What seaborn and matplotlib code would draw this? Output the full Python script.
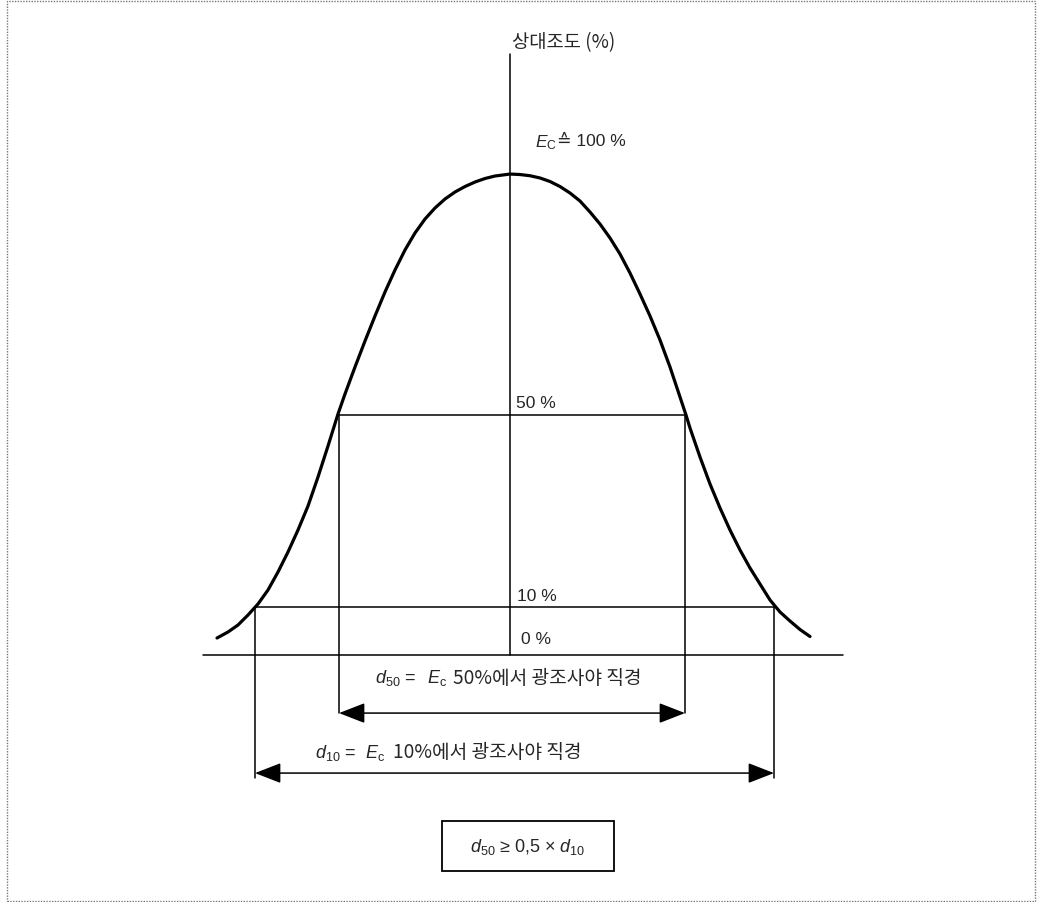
import matplotlib
matplotlib.use("Agg")
import matplotlib.pyplot as plt
import seaborn as sns
import numpy as np
import pandas as pd
from matplotlib.patches import Rectangle

# ---- data (x: offset from centre, y: relative illuminance %) ----
curve_x = [-293, -282, -272, -262, -252, -242, -232, -222, -212, -202, -192, -182, -172,
           -165, -155, -145, -135, -125, -115, -105, -95, -85, -75, -65, -55, -45, -35, -25, -15, 0,
           10, 20, 30, 40, 50, 60, 70, 80, 90, 100, 110, 120, 130, 140, 150, 160, 170, 176,
           180, 190, 200, 210, 220, 230, 240, 250, 260, 270, 280, 290, 300]
curve_y = [3.54, 4.79, 6.25, 8.33, 10.63, 13.54, 17.29, 21.46, 26.04, 31.04, 37.08, 43.54, 50.21,
           54.38, 60.0, 65.42, 70.63, 75.63, 80.21, 84.38, 87.92, 90.83, 93.13, 95.0, 96.46, 97.6, 98.54,
           99.27, 99.79, 100.2,
           100.1, 99.85, 99.38, 98.65, 97.6, 96.25, 94.58, 92.29, 89.79, 86.88, 83.54, 79.58, 75.21,
           70.63, 65.63, 60.0, 53.75, 50.0,
           47.29, 41.25, 35.63, 30.63, 26.04, 21.88, 18.13, 14.79, 11.46, 8.96, 7.08, 5.31, 3.85]

level_pct = [50, 10]
level_left = [-171, -255]
level_right = [175, 264]
level_labels = ["50 %", "10 %"]

axis_label = "상대조도 (%)"
peak_label = r"$E_\mathrm{C}$"
peak_value = "≙ 100 %"
zero_label = "0 %"
d_labels = [r"$d_{50}$ =", r"$d_{10}$ ="]
d_texts = ["50%에서 광조사야 직경", "10%에서 광조사야 직경"]
box_text = r"$d_{50}$ ≥ 0,5 × $d_{10}$"

sns.set_theme(style="white")
plt.rcParams["font.family"] = ["Liberation Sans", "Noto Sans CJK KR", "DejaVu Sans"]
plt.rcParams["mathtext.fontset"] = "custom"
plt.rcParams["mathtext.rm"] = "Liberation Sans"
plt.rcParams["mathtext.it"] = "Liberation Sans:italic"
plt.rcParams["mathtext.bf"] = "Liberation Sans:bold"

fig = plt.figure(figsize=(10.37, 9.03), dpi=100)
ax = fig.add_axes([0, 0, 1, 1])
ax.set_xlim(-510, 527)
ax.set_ylim(-51.46, 136.67)
ax.axis("off")

# dotted frame around the figure
fig.patches.append(Rectangle((7 / 1037, 1 / 903), 1028 / 1037, 900 / 903, transform=fig.transFigure,
                             fill=False, linestyle=(0, (1, 1)), linewidth=1.0, edgecolor="#777777"))

# bell curve
df = pd.DataFrame({"x": curve_x, "y": curve_y})
sns.lineplot(data=df, x="x", y="y", sort=False, color="black", linewidth=2.3, ax=ax)
ax.lines[-1].set_solid_joinstyle("round")
ax.lines[-1].set_solid_capstyle("round")

lw = 1.1
# baseline & vertical axis
ax.plot([-307, 333], [0, 0], color="black", lw=lw)
ax.plot([0, 0], [0, 125.2], color="black", lw=lw)

# level lines and drops
arrow_y = [-12.1, -24.6]
drop_end = [-12.1, -25.7]
for lvl, l, r, ay, de in zip(level_pct, level_left, level_right, arrow_y, drop_end):
    ax.plot([l, r], [lvl, lvl], color="black", lw=lw)
    ax.plot([l, l], [lvl, de], color="black", lw=lw)
    ax.plot([r, r], [lvl, de], color="black", lw=lw)
    ax.annotate("", xy=(l, ay), xytext=(r, ay),
                arrowprops=dict(arrowstyle="<|-|>,head_length=0.9,head_width=0.35", color="black",
                                lw=lw, shrinkA=0, shrinkB=0, mutation_scale=18))

fs = 12.5
ax.text(2, 127.7, axis_label, fontsize=13.5, ha="left", va="center",
        family=["Noto Sans CJK KR", "DejaVu Sans"])
ax.text(25, 106.9, peak_label, fontsize=fs, ha="left", va="center")
ax.text(47, 107.2, peak_value, fontsize=fs, ha="left", va="center",
        family=["Liberation Sans", "DejaVu Sans"])
ax.text(6, 52.7, level_labels[0], fontsize=fs, ha="left", va="center")
ax.text(7, 12.5, level_labels[1], fontsize=fs, ha="left", va="center")
ax.text(11, 3.5, zero_label, fontsize=fs, ha="left", va="center")

# diameter descriptions
d_x = [-135, -195]
e_x = [-83, -145]
t_x = [-57, -117]
t_y = [-4.6, -20.2]
for dl, dt, dx, ex, tx, ty in zip(d_labels, d_texts, d_x, e_x, t_x, t_y):
    ax.text(dx, ty, dl, fontsize=13, ha="left", va="center")
    ax.text(ex, ty, r"$E_\mathrm{c}$", fontsize=13, ha="left", va="center")
    ax.text(tx, ty, dt, fontsize=13.8, ha="left", va="center",
            family=["Noto Sans CJK KR", "DejaVu Sans"])

# boxed condition
ax.add_patch(Rectangle((-68, -45.0), 172, 10.4, fill=False, edgecolor="black", lw=1.3))
ax.text(18, -39.8, box_text, fontsize=13, ha="center", va="center")

fig.savefig("out.png", dpi=100)
